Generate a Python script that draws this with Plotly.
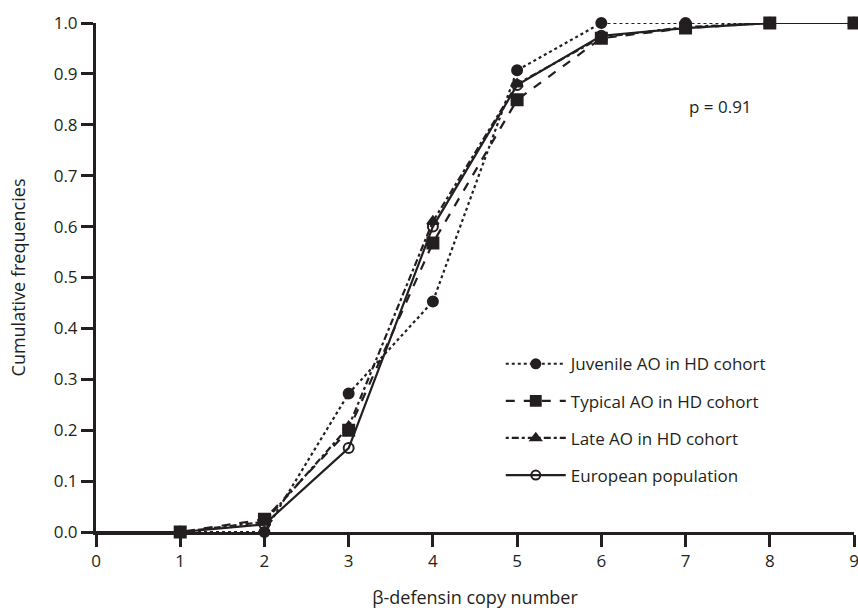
import plotly.graph_objects as go

copy_number = [0, 1, 2, 3, 4, 5, 6, 7, 8, 9]
juvenile = [0.0, 0.0, 0.0, 0.272, 0.453, 0.907, 1.0, 1.0, 1.0, 1.0]
typical = [0.0, 0.0, 0.025, 0.20, 0.568, 0.849, 0.970, 0.990, 1.0, 1.0]
late = [0.0, 0.0, 0.02, 0.207, 0.610, 0.880, 0.972, 0.992, 1.0, 1.0]
european = [0.0, 0.0, 0.015, 0.165, 0.600, 0.878, 0.975, 0.990, 1.0, 1.0]

names = ["Juvenile AO in HD cohort", "Typical AO in HD cohort",
         "Late AO in HD cohort", "European population"]
series = [juvenile, typical, late, european]
dashes = ["dot", "dash", "3px,3px,7px,3px", "solid"]
symbols = ["circle", "square", "triangle-up", "circle-open"]
sizes = [10, 11, 10, 10]

fig = go.Figure()
for i, (name, ys, d, s, sz) in enumerate(zip(names, series, dashes, symbols, sizes)):
    msize = [0] + [sz] * (len(copy_number) - 1)
    fig.add_trace(go.Scatter(
        x=copy_number, y=ys, name=name, mode="lines+markers",
        legendgroup=f"g{i}",
        line=dict(color="#231f20", width=2.2, dash=d),
        marker=dict(symbol=s, size=msize, color="#231f20", opacity=1,
                    line=dict(color="#231f20", width=2)),
        cliponaxis=False,
    ))

fig.add_annotation(x=7.42, y=0.835, text="p = 0.91", showarrow=False,
                   font=dict(size=17, color="#231f20"))

fig.update_layout(
    width=858, height=612,
    margin=dict(l=96, r=4, t=23, b=80, autoexpand=False),
    plot_bgcolor="white", paper_bgcolor="white",
    font=dict(family="Open Sans, Lato, sans-serif", color="#231f20", size=16),
    legend=dict(x=0.534, y=0.365, xanchor="left", yanchor="top",
                font=dict(size=17), bgcolor="rgba(0,0,0,0)",
                tracegroupgap=12, itemwidth=60),
    xaxis=dict(range=[0, 9], tickmode="array", tickvals=copy_number,
               automargin=False, ticklabeloverflow="allow",
               tickfont=dict(size=17),
               showgrid=False, zeroline=False, showline=True,
               linecolor="#231f20", linewidth=3, ticks="outside",
               ticklen=12, tickwidth=3, tickcolor="#231f20",
               title=dict(text="β-defensin copy number", font=dict(size=18),
                          standoff=20)),
    yaxis=dict(range=[0, 1.0], tickmode="array",
               automargin=False, tickfont=dict(size=17),
               tickvals=[i / 10 for i in range(11)],
               ticktext=[f"{i/10:.1f}" for i in range(11)],
               showgrid=False, zeroline=False, showline=True,
               linecolor="#231f20", linewidth=3, ticks="outside",
               ticklen=12, tickwidth=3, tickcolor="#231f20",
               title=dict(text="Cumulative frequencies", font=dict(size=18),
                          standoff=24)),
)

fig.write_html(
    "out.html",
    config={"displayModeBar": False},
    post_script="document.body.style.margin='0';document.body.style.overflow='hidden';",
)
